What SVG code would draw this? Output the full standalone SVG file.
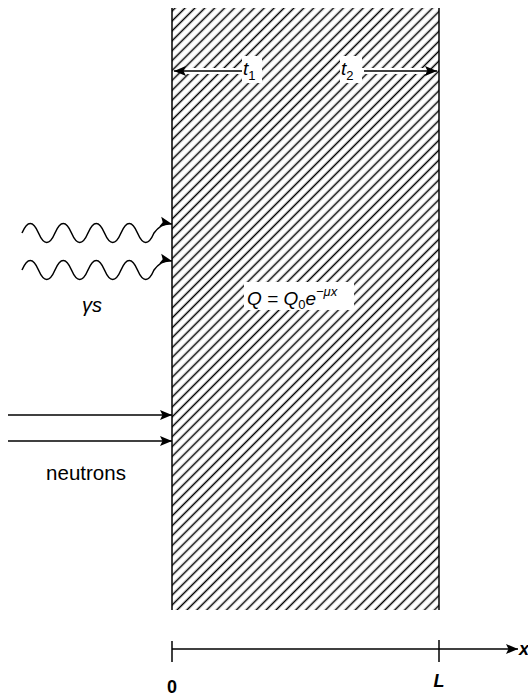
<svg xmlns="http://www.w3.org/2000/svg" width="528" height="697" viewBox="0 0 528 697">
<style>
.ln{stroke:#000;stroke-width:1.5;fill:none}
.ko{fill:#fff;stroke:none}
.ush{stroke:#fff;stroke-width:6;fill:none}
.t{font-family:"Liberation Sans",Arial,sans-serif;fill:#000}
.it{font-style:italic}
</style>
<defs>
<pattern id="hatch" patternUnits="userSpaceOnUse" width="12" height="7" patternTransform="rotate(-45)">
<line x1="0" y1="3.5" x2="12" y2="3.5" stroke="#000" stroke-width="1.5"/>
</pattern>
<marker id="ah" markerUnits="userSpaceOnUse" markerWidth="13" markerHeight="11" refX="12" refY="5" orient="auto" overflow="visible">
<path d="M0,0 L12,5 L0,10 L2.5,5 z" fill="#000"/>
</marker>
</defs>
<g id="slab">
<rect x="172" y="8" width="267" height="602" fill="url(#hatch)"/>
<line class="ln" x1="172" y1="8" x2="172" y2="610"/>
<line class="ln" x1="439" y1="8" x2="439" y2="610"/>
</g>
<g id="t1">
<line class="ush" x1="186" y1="71" x2="242" y2="71"/>
<rect class="ko" x="242" y="56" width="20" height="27"/>
<line class="ln" x1="242" y1="71" x2="174" y2="71" marker-end="url(#ah)"/>
<text class="t it" x="243" y="75" font-size="19">t<tspan font-size="13" dy="5" font-style="normal">1</tspan></text>
</g>
<g id="t2">
<line class="ush" x1="362" y1="71" x2="426" y2="71"/>
<rect class="ko" x="340" y="56" width="22" height="27"/>
<line class="ln" x1="364" y1="71" x2="437" y2="71" marker-end="url(#ah)"/>
<text class="t it" x="341" y="75" font-size="19">t<tspan font-size="13" dy="5" font-style="normal">2</tspan></text>
</g>
<g id="equation">
<rect class="ko" x="244" y="282" width="110" height="28"/>
<text class="t it" x="247" y="305" font-size="19">Q = Q<tspan font-size="13" dy="4" font-style="normal">0</tspan><tspan dy="-4">e</tspan><tspan font-size="13" dy="-9">−μx</tspan></text>
</g>
<g id="connectors">
<path class="ln" d="M22,233 q8.25,-19 16.5,0 t16.5,0 t16.5,0 t16.5,0 t16.5,0 t16.5,0 t16.5,0 t16.5,0 Q162,222 172,224" marker-end="url(#ah)"/>
<path class="ln" d="M22,270 q8.25,-19 16.5,0 t16.5,0 t16.5,0 t16.5,0 t16.5,0 t16.5,0 t16.5,0 t16.5,0 Q162,259 172,261" marker-end="url(#ah)"/>
<line class="ln" x1="8" y1="415" x2="172" y2="415" marker-end="url(#ah)"/>
<line class="ln" x1="8" y1="441" x2="172" y2="441" marker-end="url(#ah)"/>
<line class="ln" x1="172" y1="649" x2="518" y2="649" marker-end="url(#ah)"/>
<line class="ln" x1="172" y1="641" x2="172" y2="662"/>
<line class="ln" x1="439" y1="640" x2="439" y2="662"/>
</g>
<g id="labels">
<text class="t it" x="82" y="312" font-size="20">γs</text>
<text class="t" x="86" y="480" font-size="20.5" text-anchor="middle">neutrons</text>
<text class="t" x="172" y="693" font-size="18" font-weight="bold" text-anchor="middle">0</text>
<text class="t it" x="439" y="687" font-size="18" font-weight="bold" text-anchor="middle">L</text>
<text class="t it" x="519" y="655" font-size="18" font-weight="bold">x</text>
</g>
</svg>
